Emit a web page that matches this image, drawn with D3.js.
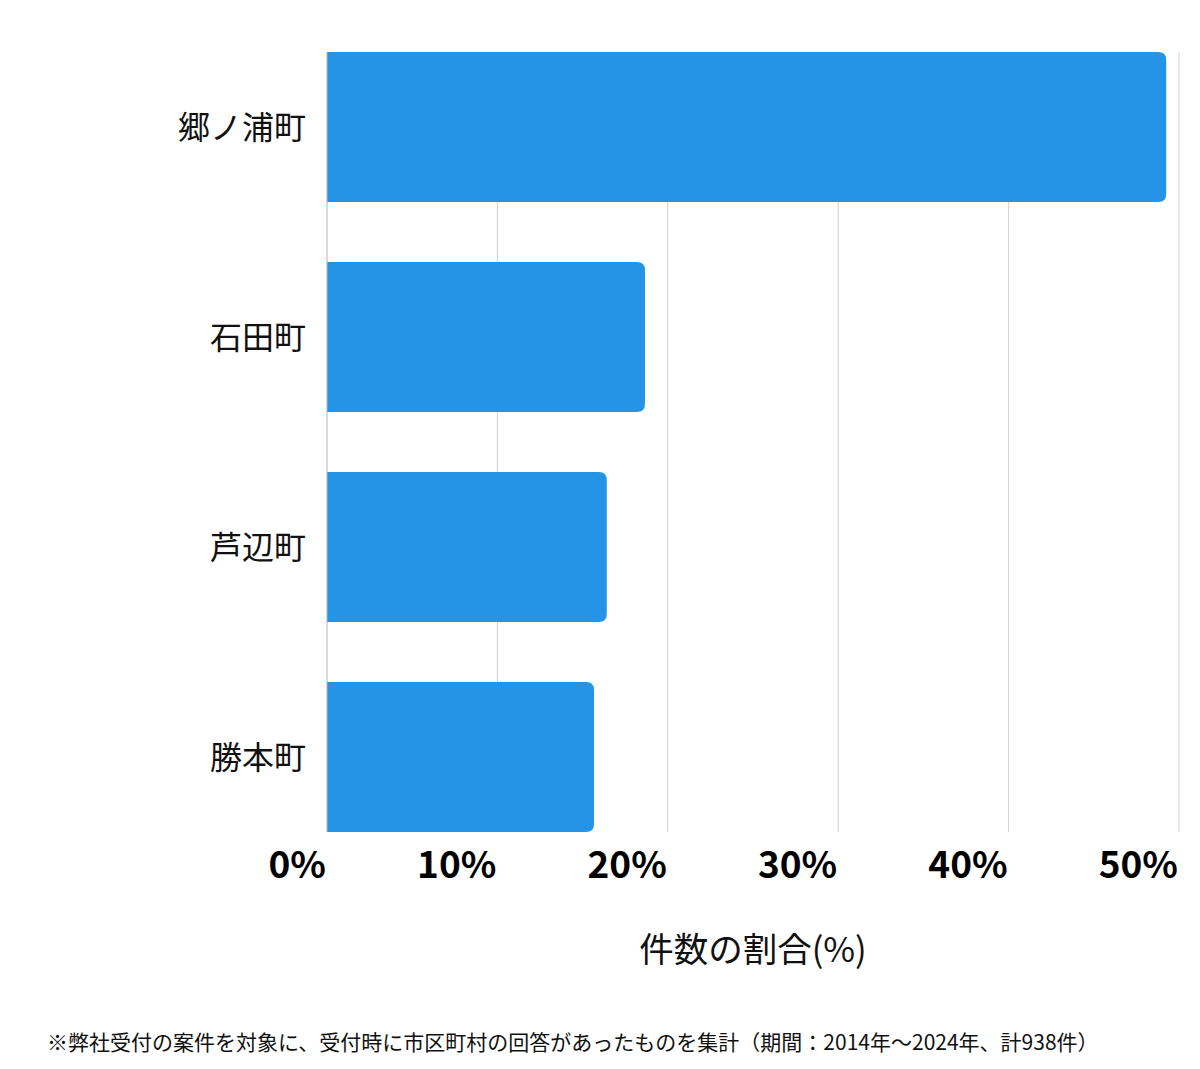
<!DOCTYPE html>
<html>
<head>
<meta charset="utf-8">
<script src="https://cdn.jsdelivr.net/npm/d3@7"></script>
<style>
  body { margin: 0; background: #fff; }
  svg { display: block; font-family: "Noto Sans CJK JP", "Noto Sans", sans-serif; }
</style>
</head>
<body>
<svg id="chart" width="1200" height="1069"></svg>
<script>
// share of cases per town (%), 938 cases total
const towns = ["郷ノ浦町", "石田町", "芦辺町", "勝本町"];
const shares = [49.25, 18.66, 16.42, 15.67];
const tickValues = [0, 10, 20, 30, 40, 50];
const axisTitle = "件数の割合(%)";
const footnote = "※弊社受付の案件を対象に、受付時に市区町村の回答があったものを集計（期間：2014年～2024年、計938件）";

const svg = d3.select("#chart");
const margin = {left: 327, right: 21, top: 52, bottom: 237};
const width = 1200, height = 1069;

const x = d3.scaleLinear()
  .domain([0, 50])
  .range([margin.left, width - margin.right]);

const y = d3.scaleBand()
  .domain(towns)
  .range([margin.top, height - margin.bottom])
  .paddingInner(60 / 210)
  .paddingOuter(0);

const data = towns.map((t, i) => ({town: t, value: shares[i]}));

// grid lines
svg.append("g")
  .selectAll("line")
  .data(tickValues.slice(1))
  .join("line")
  .attr("x1", d => x(d)).attr("x2", d => x(d))
  .attr("y1", margin.top).attr("y2", height - margin.bottom)
  .attr("stroke", "#d2d2d2")
  .attr("stroke-width", 1);

// bars, rounded on the right end only
const r = 8;
svg.append("g")
  .selectAll("path")
  .data(data)
  .join("path")
  .attr("fill", "#2694e6")
  .attr("d", d => {
    const x0 = x(0), x1 = x(d.value), y0 = y(d.town), h = y.bandwidth();
    return `M${x0},${y0}H${x1 - r}Q${x1},${y0} ${x1},${y0 + r}V${y0 + h - r}Q${x1},${y0 + h} ${x1 - r},${y0 + h}H${x0}Z`;
  });

// baseline
svg.append("line")
  .attr("x1", x(0)).attr("x2", x(0))
  .attr("y1", margin.top).attr("y2", height - margin.bottom)
  .attr("stroke", "#b3b3b3")
  .attr("stroke-width", 1);

// category labels
svg.append("g")
  .selectAll("text")
  .data(towns)
  .join("text")
  .attr("x", 306)
  .attr("y", d => y(d) + y.bandwidth() / 2)
  .attr("dy", "0.36em")
  .attr("text-anchor", "end")
  .attr("font-size", 32)
  .attr("fill", "#111")
  .text(d => d);

// tick labels
svg.append("g")
  .selectAll("text")
  .data(tickValues)
  .join("text")
  .attr("x", d => x(d) - 1)
  .attr("y", 878)
  .attr("text-anchor", "end")
  .attr("font-size", 37)
  .attr("font-weight", "bold")
  .attr("fill", "#000")
  .text(d => d + "%");

// axis title
svg.append("text")
  .attr("x", 753)
  .attr("y", 962)
  .attr("text-anchor", "middle")
  .attr("font-size", 34.5)
  .attr("fill", "#111")
  .text(axisTitle);

// footnote
svg.append("text")
  .attr("x", 47)
  .attr("y", 1050)
  .attr("font-size", 21)
  .attr("fill", "#111")
  .text(footnote);
</script>
</body>
</html>
